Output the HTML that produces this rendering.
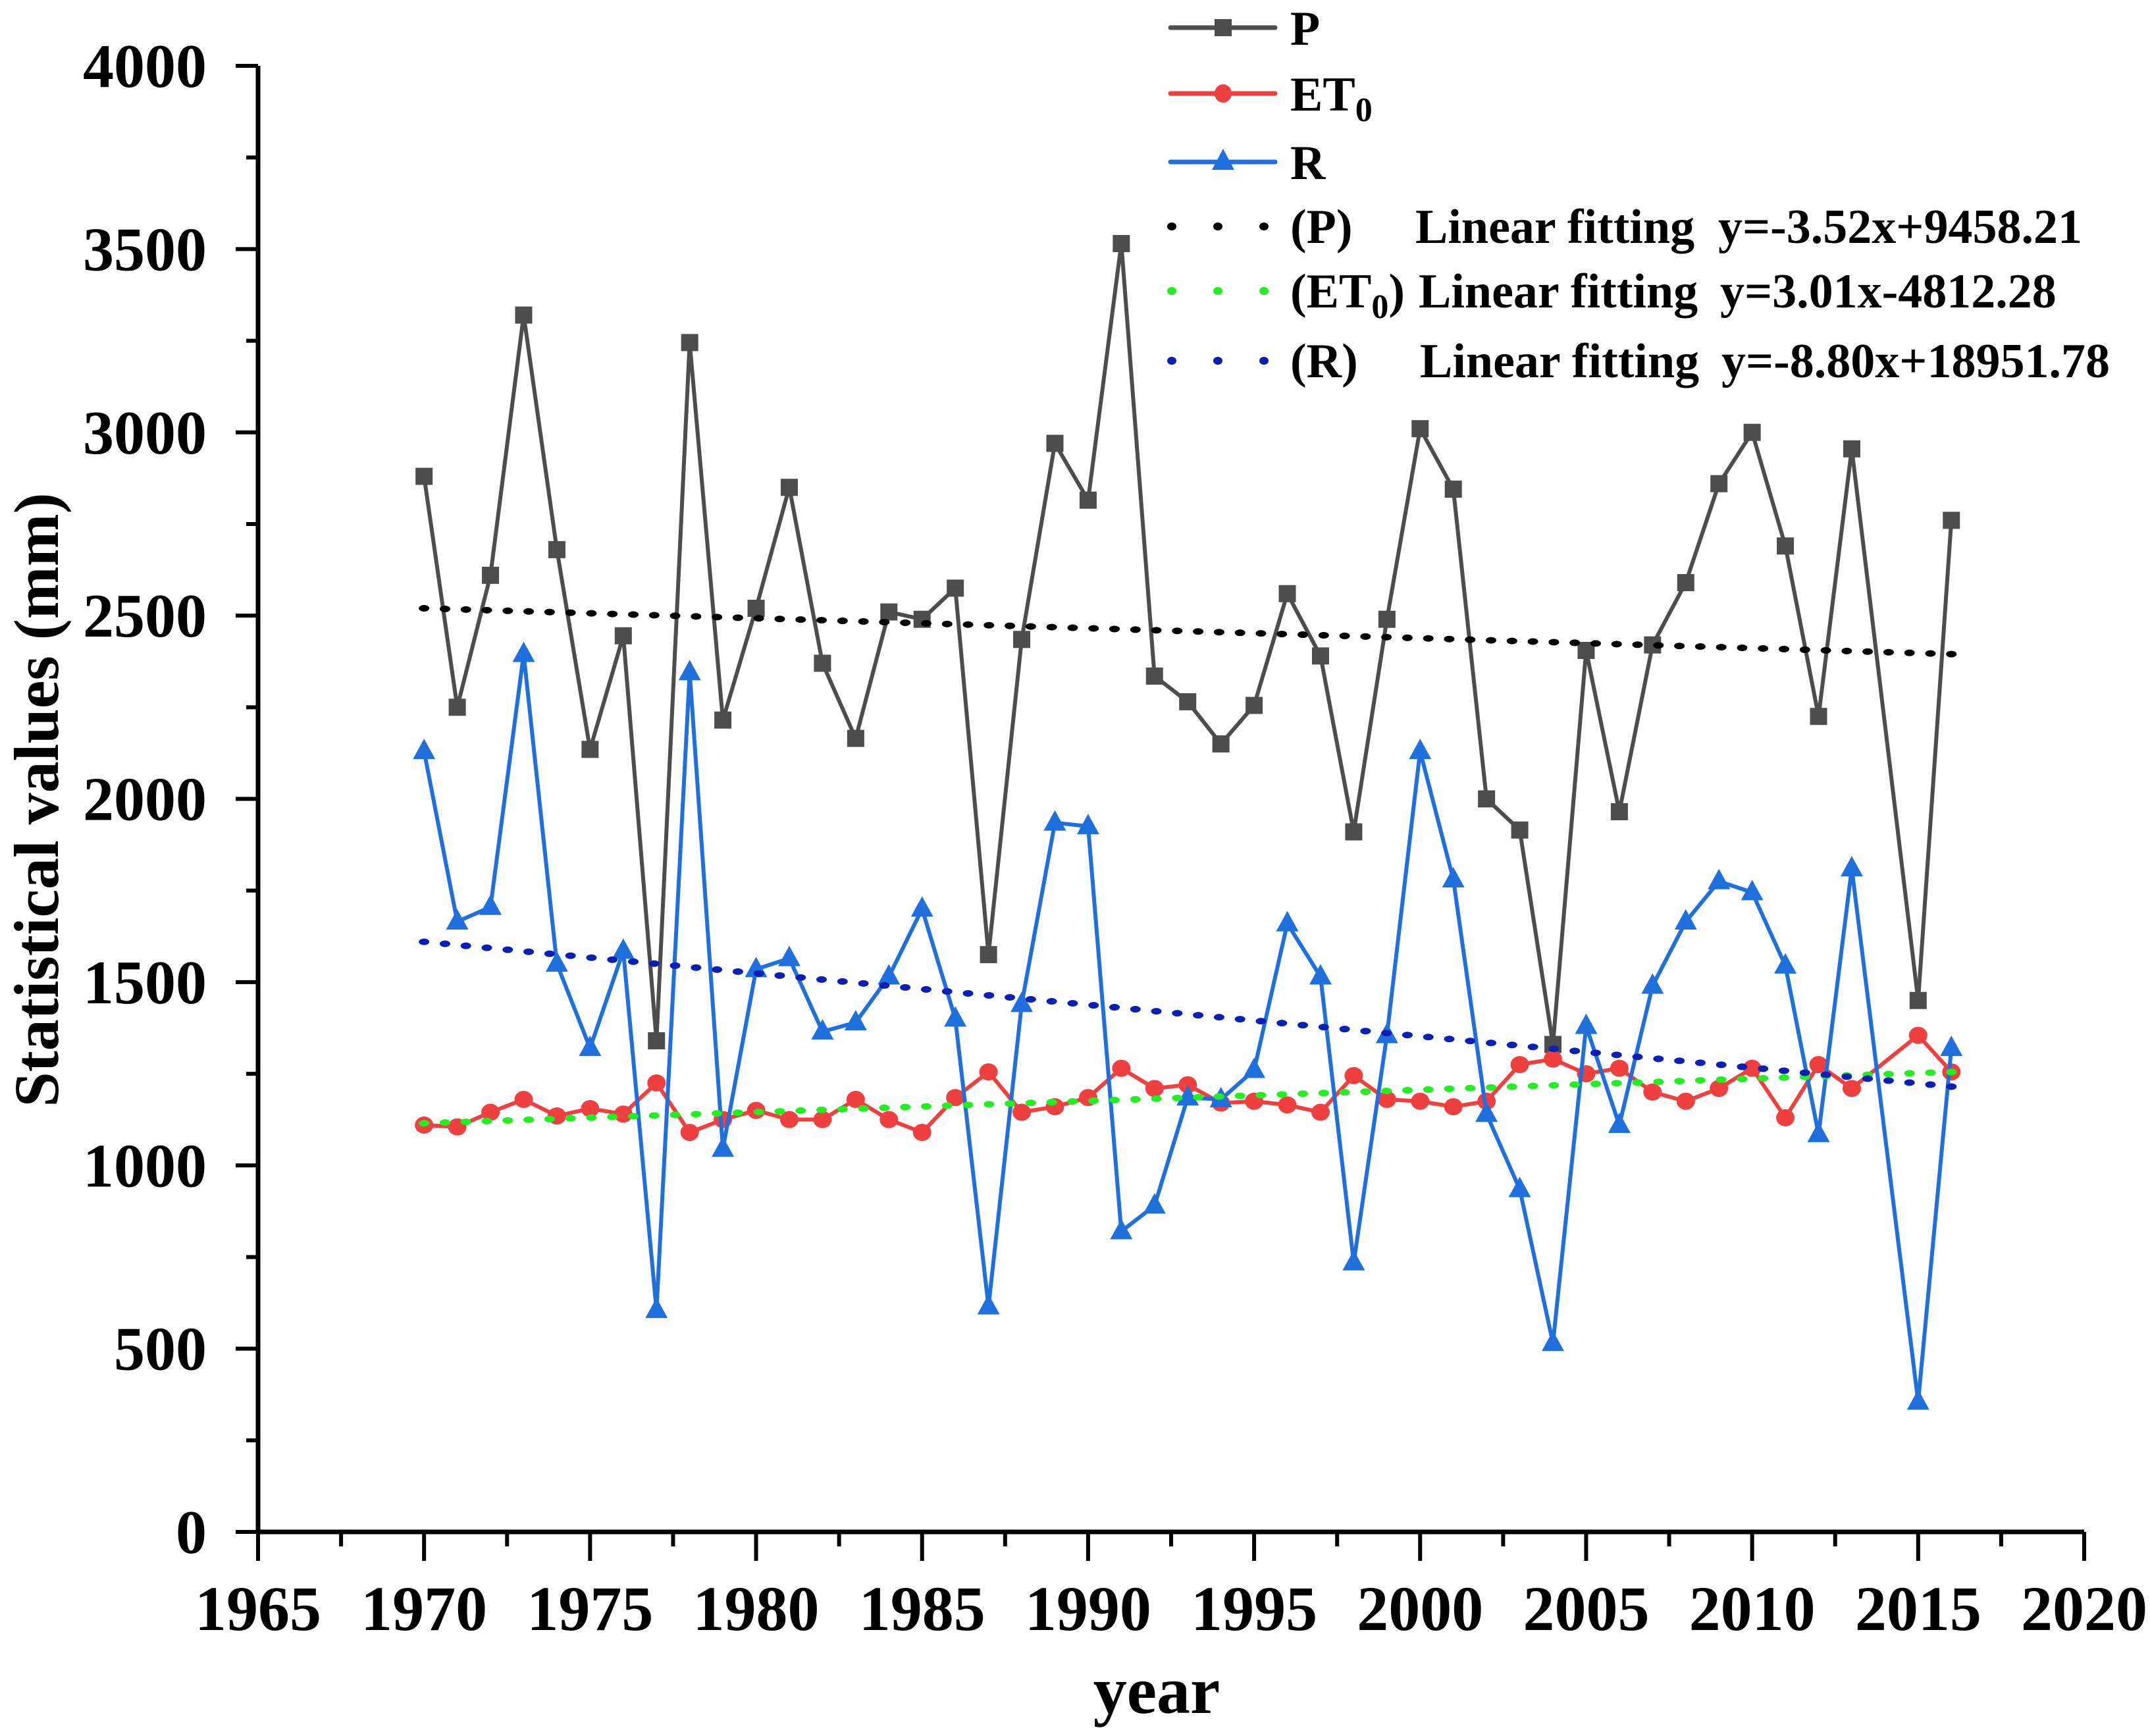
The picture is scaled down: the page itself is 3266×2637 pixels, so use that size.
<!DOCTYPE html>
<html><head><meta charset="utf-8">
<style>
html,body{margin:0;padding:0;background:#fff;}
svg{display:block;font-family:"Liberation Serif",serif;font-weight:bold;}
</style></head>
<body>
<svg id="chart" width="3266" height="2637" viewBox="0 0 3266 2637" xmlns="http://www.w3.org/2000/svg">
<g id="grid"></g>
<g id="series"></g>
<g id="legend"></g>
</svg>
<script>
const years = [1970,1971,1972,1973,1974,1975,1976,1977,1978,1979,1980,1981,1982,1983,1984,1985,1986,1987,1988,1989,1990,1991,1992,1993,1994,1995,1996,1997,1998,1999,2000,2001,2002,2003,2004,2005,2006,2007,2008,2009,2010,2011,2012,2013,2015,2016];
const pValues = [2880,2250,2610,3320,2680,2135,2445,1340,3245,2215,2520,2850,2370,2165,2510,2490,2575,1575,2435,2970,2815,3515,2335,2265,2150,2255,2560,2390,1910,2490,3010,2845,2000,1915,1330,2405,1965,2420,2590,2860,3000,2690,2225,2955,1450,2760];
const et0Values = [1110,1105,1145,1180,1135,1155,1140,1225,1090,1125,1150,1125,1125,1180,1125,1090,1185,1255,1145,1160,1185,1265,1210,1220,1170,1175,1165,1145,1245,1180,1175,1160,1175,1275,1290,1250,1265,1200,1175,1210,1265,1130,1275,1210,1355,1255];
const rValues = [2130,1665,1705,2395,1550,1320,1585,605,2345,1045,1535,1565,1365,1390,1515,1700,1400,615,1440,1935,1925,820,890,1185,1180,1260,1660,1515,735,1355,2130,1780,1140,935,515,1380,1110,1490,1665,1775,1745,1545,1085,1810,355,1320];
const fitYears = [1970,2016];
const pFit = [2520,2395];
const et0Fit = [1115,1255];
const rFit = [1610,1215];
const xTicks = [1965,1970,1975,1980,1985,1990,1995,2000,2005,2010,2015,2020];
const yTicks = [0,500,1000,1500,2000,2500,3000,3500,4000];

const NS="http://www.w3.org/2000/svg";
const X0=392,X1=3166,Y0=2327,Y1=100;
const xs=v=>X0+(v-1965)/(2020-1965)*(X1-X0);
const ys=v=>Y0-(v/4000)*(Y0-Y1);
function mk(tag,attrs,parent){const e=document.createElementNS(NS,tag);for(const k in attrs)e.setAttribute(k,attrs[k]);parent.appendChild(e);return e;}
const grid=document.getElementById('grid'),series=document.getElementById('series'),legend=document.getElementById('legend');

let ax=mk('line',{x1:X0,y1:Y0,x2:X1,y2:Y0,stroke:'#000','stroke-width':7},grid);


let ay=mk('line',{x1:X0,y1:Y0+3,x2:X0,y2:Y1,stroke:'#000','stroke-width':7},grid);


for(let i=0;i<xTicks.length;i++){
  const x=xs(xTicks[i]);
  mk('line',{x1:x,y1:Y0,x2:x,y2:Y0+44,stroke:'#000','stroke-width':6},grid);
  if(i<xTicks.length-1){const xm=xs(xTicks[i]+2.5);mk('line',{x1:xm,y1:Y0,x2:xm,y2:Y0+22,stroke:'#000','stroke-width':6},grid);}
  const t=mk('text',{x:x,y:2476,'font-size':96,'text-anchor':'middle'},grid);t.textContent=xTicks[i];
  
  
}
for(let i=0;i<yTicks.length;i++){
  const y=ys(yTicks[i]);
  mk('line',{x1:X0-34,y1:y,x2:X0,y2:y,stroke:'#000','stroke-width':6},grid);
  if(i<yTicks.length-1){const ym=ys(yTicks[i]+250);mk('line',{x1:X0-18,y1:ym,x2:X0,y2:ym,stroke:'#000','stroke-width':6},grid);}
  const t=mk('text',{x:314,y:y+32,'font-size':94,'text-anchor':'end'},grid);t.textContent=yTicks[i];
  
  
}
let xt=mk('text',{x:1757,y:2602,'font-size':102,'text-anchor':'middle'},grid);xt.textContent='year';


let yt=mk('text',{x:0,y:0,'font-size':96,'text-anchor':'middle',transform:'translate(88,1215) rotate(-90)'},grid);yt.textContent='Statistical values (mm)';



function drawSeries(vals,color,marker,name){
  const g=mk('g',{},series);
  
  
  const pts=vals.map((v,i)=>xs(years[i])+','+ys(v)).join(' ');
  mk('polyline',{points:pts,fill:'none',stroke:color,'stroke-width':6,'stroke-linejoin':'round'},g);
  vals.forEach((v,i)=>{
    const x=xs(years[i]),y=ys(v);let m;
    if(marker==='sq')m=mk('rect',{x:x-13,y:y-13,width:26,height:26,fill:color},g);
    else if(marker==='c')m=mk('ellipse',{cx:x,cy:y,rx:14,ry:13,fill:color},g);
    else m=mk('polygon',{points:`${x},${y-19} ${x-17},${y+12} ${x+17},${y+12}`,fill:color},g);
    
    
  });
}
drawSeries(pValues,'#4d4d4d','sq','series-p');
drawSeries(et0Values,'#ef4040','c','series-et0');
drawSeries(rValues,'#1f6fdc','t','series-r');

function drawFit(vals,color,name){
  const g=mk('g',{},series);
  
  
  const xa=xs(fitYears[0]),xb=xs(fitYears[1]),ya=ys(vals[0]),yb=ys(vals[1]);
  const n=Math.round((xb-xa)/32);
  for(let k=0;k<=n;k++){const f=k/n;mk('ellipse',{cx:xa+(xb-xa)*f,cy:ya+(yb-ya)*f,rx:8,ry:5,fill:color},g);}
}
drawFit(pFit,'#000','fit-p');
drawFit(et0Fit,'#22ee22','fit-et0');
drawFit(rFit,'#0a1fb4','fit-r');

const lg=[['P','#4d4d4d','sq',42],['ET','#ef4040','c',142],['R','#1f6fdc','t',246]];
lg.forEach(([lab,col,mkr,y])=>{
  const g=mk('g',{},legend);
  
  
  mk('line',{x1:1778,y1:y,x2:1937,y2:y,stroke:col,'stroke-width':7,'stroke-linecap':'round'},g);
  const cx=1858;
  if(mkr==='sq')mk('rect',{x:cx-13,y:y-13,width:26,height:26,fill:col},g);
  else if(mkr==='c')mk('ellipse',{cx:cx,cy:y,rx:13,ry:14,fill:col},g);
  else mk('polygon',{points:`${cx},${y-20} ${cx-17},${y+12} ${cx+17},${y+12}`,fill:col},g);
  const t=mk('text',{x:1960,y:y+26,'font-size':74},g);
  t.innerHTML = lab==='ET'?'ET<tspan font-size="52" dy="16">0</tspan>':lab;
});
const fl=[['(P)','#000',344,2150,2610,'y=-3.52x+9458.21'],['(ET0)','#22ee22',442,2155,2613,'y=3.01x-4812.28'],['(R)','#0a1fb4',548,2157,2615,'y=-8.80x+18951.78']];
fl.forEach(([lab,col,y,lx,ex,eq])=>{
  const g=mk('g',{},legend);
  
  
  [1780,1850,1920].forEach(cx=>mk('ellipse',{cx:cx,cy:y,rx:7,ry:6,fill:col},g));
  const t=mk('text',{x:1960,y:y+25,'font-size':74},g);
  t.innerHTML = lab==='(ET0)'?'(ET<tspan font-size="52" dy="16">0</tspan><tspan dy="-16">)</tspan>':lab;
  const t2=mk('text',{x:lx,y:y+25,'font-size':74},g);t2.textContent='Linear fitting';
  const t3=mk('text',{x:ex,y:y+25,'font-size':74},g);t3.textContent=eq;
});
</script>
</body></html>
